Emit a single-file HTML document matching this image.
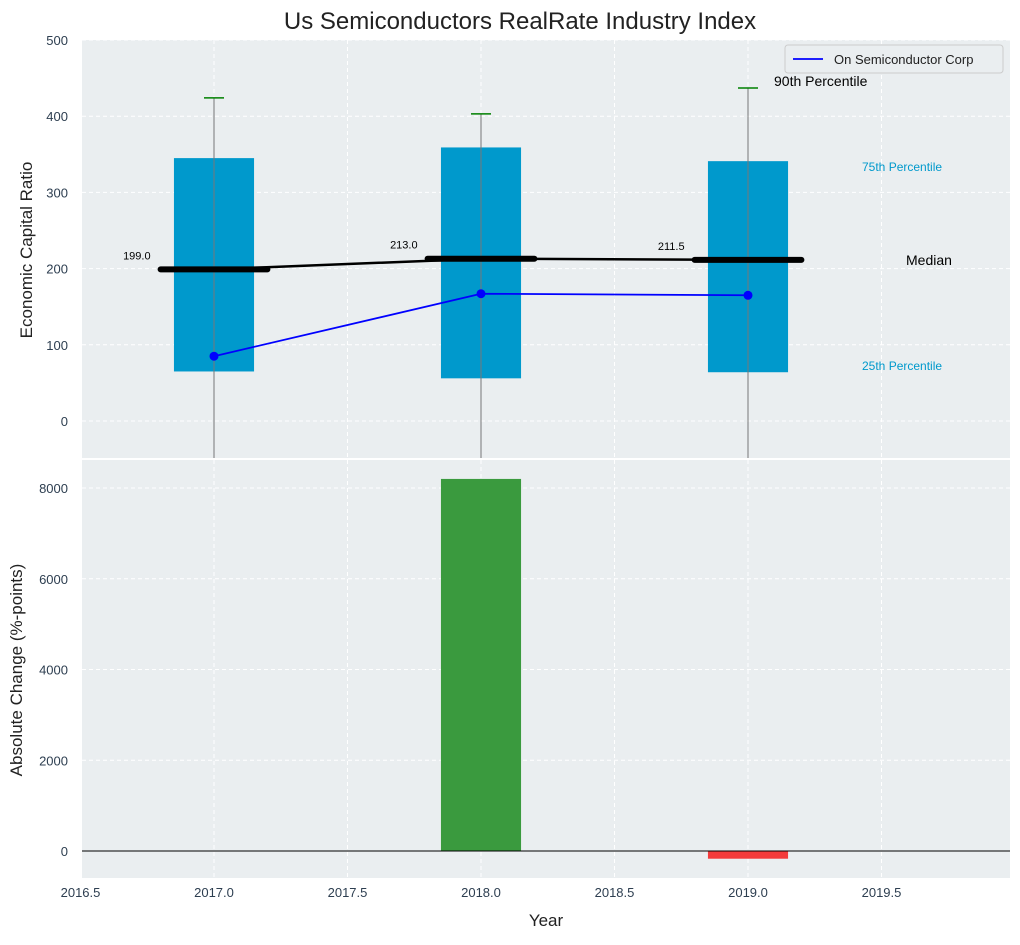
<!DOCTYPE html>
<html><head><meta charset="utf-8"><style>
body{margin:0;background:#fff;font-family:"Liberation Sans","DejaVu Sans",sans-serif}
svg text{font-family:"Liberation Sans","DejaVu Sans",sans-serif}
</style></head><body>
<svg id="c" width="1020" height="940" xmlns="http://www.w3.org/2000/svg"></svg>
<script>
const years=[2017,2018,2019];
const p25=[65,56,64];
const p75=[345,359,341];
const p90=[424,403,437];
const medians=[199,213,211.5];
const medianLabels=["199.0","213.0","211.5"];
const company=[85,167,165];
const changes=[0,8200,-170];
const xTicks=[2016.5,2017,2017.5,2018,2018.5,2019,2019.5];
const yTopTicks=[0,100,200,300,400,500];
const yBotTicks=[0,2000,4000,6000,8000];

const svg=document.getElementById('c');
const NS='http://www.w3.org/2000/svg';
function mk(t,a,p){const e=document.createElementNS(NS,t);for(const k in a)e.setAttribute(k,a[k]);(p||svg).appendChild(e);return e;}
const L=82,R=1010;
const xs=v=>80.5+(v-2016.5)*267;
const yT=v=>421-v*0.762;
const yB=v=>851-v*90.75/2000;
const T0=40,T1=458,B0=460,B1=878;

let e;
e=mk('rect',{x:L,y:T0,width:R-L,height:T1-T0,fill:'#eaeef0'});


e=mk('rect',{x:L,y:B0,width:R-L,height:B1-B0,fill:'#eaeef0'});



xTicks.forEach(v=>{
 [[T0,T1],[B0,B1]].forEach(r=>{e=mk('line',{x1:xs(v),x2:xs(v),y1:r[0],y2:r[1],stroke:'#fff','stroke-dasharray':'4,3','stroke-width':1});});
 e=mk('text',{x:xs(v),y:897,'text-anchor':'middle','font-size':13,fill:'#2d3e50'});e.textContent=v.toFixed(1);
 
});
yTopTicks.forEach(v=>{
 e=mk('line',{x1:L,x2:R,y1:yT(v),y2:yT(v),stroke:'#fff','stroke-dasharray':'4,3'});
 e=mk('text',{x:68,y:yT(v)+5,'text-anchor':'end','font-size':13,fill:'#2d3e50'});e.textContent=v;
 
});
yBotTicks.forEach(v=>{
 e=mk('line',{x1:L,x2:R,y1:yB(v),y2:yB(v),stroke:'#fff','stroke-dasharray':'4,3'});
 e=mk('text',{x:68,y:yB(v)+5,'text-anchor':'end','font-size':13,fill:'#2d3e50'});e.textContent=v;
 
});

years.forEach((y,i)=>{
 const x=xs(y),w=0.3*267;
 e=mk('rect',{x:x-w/2,y:yT(p75[i]),width:w,height:yT(p25[i])-yT(p75[i]),fill:'#0099cc'});
 
 e=mk('line',{x1:x,x2:x,y1:yT(p90[i]),y2:T1,stroke:'#777','stroke-width':1});
 
 e=mk('line',{x1:x-10,x2:x+10,y1:yT(p90[i]),y2:yT(p90[i]),stroke:'#008000','stroke-width':1.5});
 
 e=mk('line',{x1:x-0.2*267,x2:x+0.2*267,y1:yT(medians[i]),y2:yT(medians[i]),stroke:'#000','stroke-width':6,'stroke-linecap':'round'});
 
 e=mk('text',{x:x-0.2*267-10,y:yT(medians[i])-10,'text-anchor':'end','font-size':11,fill:'#000'});e.textContent=medianLabels[i];
 
});
e=mk('polyline',{points:years.map((y,i)=>xs(y)+','+yT(medians[i])).join(' '),fill:'none',stroke:'#000','stroke-width':2.5});

e=mk('polyline',{points:years.map((y,i)=>xs(y)+','+yT(company[i])).join(' '),fill:'none',stroke:'#0000ff','stroke-width':1.8});

years.forEach((y,i)=>{e=mk('circle',{cx:xs(y),cy:yT(company[i]),r:4.5,fill:'#0000ff'});});

[['90th Percentile',774,86,14,'#000'],['75th Percentile',862,171,12,'#0099cc'],['Median',906,265,14,'#000'],['25th Percentile',862,370,12,'#0099cc']].forEach(a=>{
 e=mk('text',{x:a[1],y:a[2],'font-size':a[3],fill:a[4]});e.textContent=a[0];
 
});

years.forEach((y,i)=>{
 if(!changes[i])return;
 const x=xs(y),w=0.3*267;
 const y0=yB(Math.max(changes[i],0)),y1=yB(Math.min(changes[i],0));
 e=mk('rect',{x:x-w/2,y:y0,width:w,height:y1-y0,fill:changes[i]>0?'#3a9a3e':'#f33b3b'});
 
});
e=mk('line',{x1:L,x2:R,y1:yB(0),y2:yB(0),stroke:'#000','stroke-width':1});


e=mk('text',{x:520,y:29,'text-anchor':'middle','font-size':24,fill:'#222'});e.textContent='Us Semiconductors RealRate Industry Index';

e=mk('text',{x:32,y:250,'text-anchor':'middle','font-size':17,fill:'#222',transform:'rotate(-90 32 250)'});e.textContent='Economic Capital Ratio';

e=mk('text',{x:22,y:670,'text-anchor':'middle','font-size':17,fill:'#222',transform:'rotate(-90 22 670)'});e.textContent='Absolute Change (%-points)';

e=mk('text',{x:546,y:926,'text-anchor':'middle','font-size':17,fill:'#222'});e.textContent='Year';


const lg=mk('g',{});

mk('rect',{x:785,y:45,width:218,height:28,rx:3,fill:'#eaeef0',stroke:'#ccc'},lg);
mk('line',{x1:793,x2:823,y1:59,y2:59,stroke:'#0000ff','stroke-width':1.8},lg);
e=mk('text',{x:834,y:64,'font-size':13,fill:'#222'},lg);e.textContent='On Semiconductor Corp';

</script>
</body></html>
